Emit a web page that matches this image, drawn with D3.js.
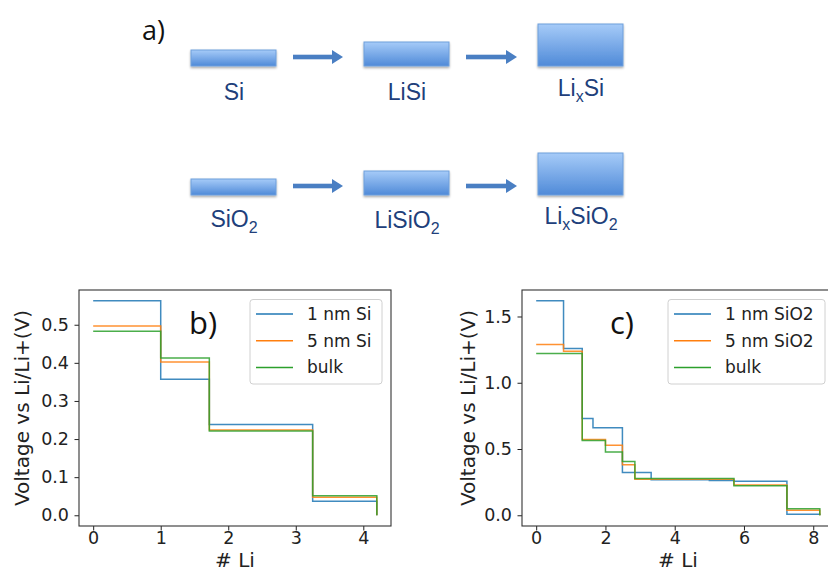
<!DOCTYPE html>
<html>
<head>
    <meta charset="utf-8">
    <script src="https://d3js.org/d3.v7.min.js"></script>
    <title>Li in Si / SiO2</title>
    <style>
        body { margin: 0; background: white; }
        svg { display: block; }
    </style>
</head>
<body>
<svg id="chart" width="828" height="579"></svg>
<script>
    // ---- data ----
    // panel b : Si
    const siX = [0, 1, 1.72, 3.25, 4.2]
    const si1nm = [0.563, 0.357, 0.238, 0.037, 0]
    const si5nm = [0.497, 0.402, 0.224, 0.047, 0]
    const siBulk = [0.483, 0.413, 0.221, 0.051, 0]

    // panel c : SiO2 (each series has its own break points)
    const sio1nmX = [0, 0.79, 1.33, 1.64, 2.49, 3.32, 5.0, 5.71, 7.24, 8.19]
    const sio1nmY = [1.619, 1.259, 0.731, 0.660, 0.322, 0.268, 0.262, 0.257, 0.008, 0]
    const sio5nmX = [0, 0.79, 1.33, 2.0, 2.49, 2.85, 5.71, 7.24, 8.19]
    const sio5nmY = [1.289, 1.238, 0.571, 0.528, 0.381, 0.272, 0.228, 0.038, 0]
    const sioBulkX = [0, 1.33, 2.0, 2.49, 2.85, 5.71, 7.24, 8.19]
    const sioBulkY = [1.221, 0.564, 0.477, 0.406, 0.277, 0.222, 0.05, 0]

    const legendSi = ['1 nm Si', '5 nm Si', 'bulk']
    const legendSiO2 = ['1 nm SiO2', '5 nm SiO2', 'bulk']
    const siTicksX = [0, 1, 2, 3, 4]
    const siTicksY = [0, 0.1, 0.2, 0.3, 0.4, 0.5]
    const sioTicksX = [0, 2, 4, 6, 8]
    const sioTicksY = [0, 0.5, 1.0, 1.5]

    // diagram (panel a)
    const rowTop = ['Si', 'LiSi', 'LixSi']
    const rowBottom = ['SiO2', 'LiSiO2', 'LixSiO2']
    const boxHeights = [16, 24, 42]

    const colors = ['#1f77b4', '#ff7f0e', '#2ca02c']
    const svg = d3.select('#chart')

    // ---- panel a ----
    const defs = svg.append('defs')
    const grad = defs.append('linearGradient').attr('id', 'boxGrad')
        .attr('x1', 0).attr('y1', 0).attr('x2', 0).attr('y2', 1)
    grad.append('stop').attr('offset', '0%').attr('stop-color', '#a6cbf8')
    grad.append('stop').attr('offset', '100%').attr('stop-color', '#4f8ad8')
    const shadow = defs.append('filter').attr('id', 'shadow')
        .attr('x', '-10%').attr('y', '-20%').attr('width', '120%').attr('height', '160%')
    shadow.append('feDropShadow').attr('dx', 0).attr('dy', 1.5).attr('stdDeviation', 1.2)
        .attr('flood-color', '#000').attr('flood-opacity', 0.35)

    svg.append('text').attr('x', 142).attr('y', 40)
        .attr('font-family', 'Open Sans').attr('font-size', 27).attr('fill', '#111')
        .text('a)')

    const boxX = [191, 364, 538]
    const boxW = 85

    function drawRow(names, bottom, labelY) {
        const g = svg.append('g')
        names.forEach(function (name, i) {
            const h = boxHeights[i]
            g.append('rect').attr('x', boxX[i]).attr('y', bottom - h)
                .attr('width', boxW).attr('height', h)
                .attr('fill', 'url(#boxGrad)').attr('stroke', '#6f9fdc').attr('stroke-width', 1)
                .attr('filter', 'url(#shadow)')
            // arrow to next box
            if (i < names.length - 1) {
                const ay = bottom - 9
                const x0 = boxX[i] + boxW + 17
                const x1 = boxX[i + 1] - 21
                g.append('rect').attr('x', x0).attr('y', ay - 2.3).attr('width', x1 - x0 - 10).attr('height', 4.6)
                    .attr('fill', '#4a7fc3')
                g.append('path')
                    .attr('d', 'M' + (x1 - 11) + ',' + (ay - 7) + 'L' + x1 + ',' + ay + 'L' + (x1 - 11) + ',' + (ay + 7) + 'Z')
                    .attr('fill', '#4a7fc3')
            }
            // label with sub scripts
            const t = g.append('text').attr('x', boxX[i] + boxW / 2 + 0.5).attr('y', labelY[i])
                .attr('text-anchor', 'middle').attr('font-family', 'Liberation Sans, Arial')
                .attr('font-size', 23).attr('fill', '#213f7b')
            const parts = name.match(/Li(?=x)|x|O2$|Si|Li|O|2/g)
            let subNext = false
            parts.forEach(function (p) {
                if (p === 'x' || p === '2') {
                    t.append('tspan').attr('font-size', 16).attr('dy', 6).text(p)
                    subNext = true
                } else if (p === 'O2') {
                    t.append('tspan').attr('dy', subNext ? -6 : 0).text('O')
                    t.append('tspan').attr('font-size', 16).attr('dy', 6).text('2')
                    subNext = true
                } else {
                    t.append('tspan').attr('dy', subNext ? -6 : 0).text(p)
                    subNext = false
                }
            })
        })
    }
    drawRow(rowTop, 66, [100, 100, 96])
    drawRow(rowBottom, 195, [227, 228, 224])

    // ---- panels b and c ----
    function panel(opt) {
        const left = opt.left, top = 290, w = opt.width, h = 236
        const xDom = d3.extent(opt.series.flatMap(s => s.x))
        const yDom = d3.extent(opt.series.flatMap(s => s.y))
        const xPad = (xDom[1] - xDom[0]) * 0.05
        const yPad = (yDom[1] - yDom[0]) * 0.05
        const x = d3.scaleLinear().domain([xDom[0] - xPad, xDom[1] + xPad]).range([left, left + w])
        const y = d3.scaleLinear().domain([yDom[0] - yPad, yDom[1] + yPad]).range([top + h, top])

        const g = svg.append('g')
        const line = d3.line().x(d => x(d[0])).y(d => y(d[1])).curve(d3.curveStepAfter)
        opt.series.forEach(function (s, i) {
            g.append('path').datum(d3.zip(s.x, s.y))
                .attr('d', line).attr('fill', 'none')
                .attr('stroke', colors[i]).attr('stroke-width', 1.5).attr('stroke-opacity', 0.85)
        })

        const xAxis = g.append('g').attr('transform', 'translate(0,' + (top + h) + ')')
            .call(d3.axisBottom(x).tickValues(opt.ticksX).tickFormat(d3.format('d')).tickSize(4.5).tickPadding(1.5))
        const yAxis = g.append('g').attr('transform', 'translate(' + left + ',0)')
            .call(d3.axisLeft(y).tickValues(opt.ticksY).tickFormat(d3.format('.1f')).tickSize(4.5).tickPadding(5.5))
        ;[xAxis, yAxis].forEach(function (a) {
            a.select('.domain').remove()
            a.selectAll('line').attr('stroke', '#222').attr('stroke-width', 1)
            a.selectAll('text').attr('font-family', 'DejaVu Sans').attr('font-size', 17.5).attr('fill', '#222')
        })

        // frame
        g.append('rect').attr('x', left).attr('y', top).attr('width', w).attr('height', h)
            .attr('fill', 'none').attr('stroke', '#333').attr('stroke-width', 1.1)

        // axis titles
        g.append('text').attr('x', left + w / 2).attr('y', 567).attr('text-anchor', 'middle')
            .attr('font-family', 'DejaVu Sans').attr('font-size', 20).attr('fill', '#222')
            .text('# Li')
        g.append('text').attr('transform', 'translate(' + opt.ylabelX + ',' + (top + h / 2) + ') rotate(-90)')
            .attr('text-anchor', 'middle')
            .attr('font-family', 'DejaVu Sans').attr('font-size', 20).attr('fill', '#222')
            .text('Voltage vs Li/Li+(V)')

        // panel letter
        g.append('text').attr('x', opt.tagX).attr('y', 334)
            .attr('font-family', 'Open Sans').attr('font-size', 31).attr('fill', '#111')
            .text(opt.tag)

        // legend
        const lg = g.append('g')
        lg.append('rect').attr('x', opt.legX).attr('y', 299.5).attr('width', opt.legW).attr('height', 84.5)
            .attr('rx', 3).attr('fill', 'white').attr('fill-opacity', 0.8)
            .attr('stroke', '#d0d0d0').attr('stroke-width', 1)
        opt.names.forEach(function (n, i) {
            const ly = 314 + i * 26.7
            lg.append('line').attr('x1', opt.legX + 6).attr('x2', opt.legX + 43)
                .attr('y1', ly).attr('y2', ly).attr('stroke', colors[i]).attr('stroke-width', 1.5)
            lg.append('text').attr('x', opt.legX + 57).attr('y', ly + 6)
                .attr('font-family', 'DejaVu Sans').attr('font-size', 17).attr('fill', '#222')
                .text(n)
        })
    }

    panel({
        left: 79, width: 312, tag: 'b)', tagX: 189, ylabelX: 29,
        ticksX: siTicksX, ticksY: siTicksY, names: legendSi, legX: 250, legW: 132,
        series: [{ x: siX, y: si1nm }, { x: siX, y: si5nm }, { x: siX, y: siBulk }]
    })
    panel({
        left: 522, width: 312, tag: 'c)', tagX: 610, ylabelX: 475,
        ticksX: sioTicksX, ticksY: sioTicksY, names: legendSiO2, legX: 668, legW: 157,
        series: [{ x: sio1nmX, y: sio1nmY }, { x: sio5nmX, y: sio5nmY }, { x: sioBulkX, y: sioBulkY }]
    })
</script>
</body>
</html>
